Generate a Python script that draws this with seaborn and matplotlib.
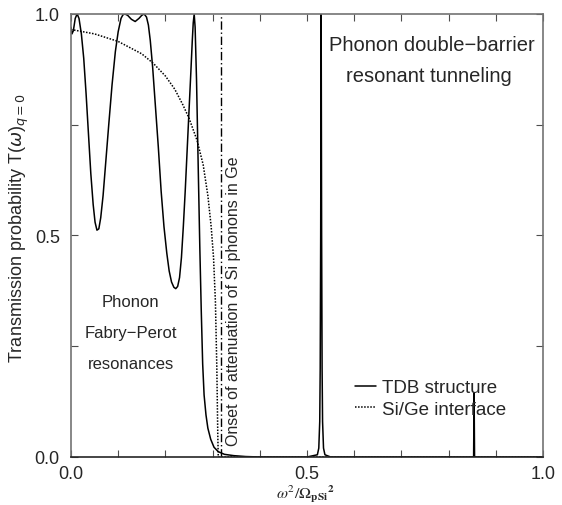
import numpy as np
import pandas as pd
import matplotlib
matplotlib.use('Agg')
import matplotlib.pyplot as plt
from matplotlib.ticker import MultipleLocator
import seaborn as sns

# TDB structure (solid)
tdb_x = [0.0, 0.002, 0.005, 0.009, 0.013, 0.017, 0.022, 0.027, 0.032, 0.037, 0.042, 0.047,
         0.051, 0.055, 0.059, 0.063, 0.068, 0.074, 0.08, 0.087, 0.094, 0.1, 0.106, 0.11,
         0.114, 0.12, 0.128, 0.136, 0.144, 0.15, 0.155, 0.16, 0.164, 0.168, 0.173, 0.179,
         0.185, 0.191, 0.197, 0.203, 0.208, 0.213, 0.218, 0.222, 0.226, 0.23, 0.234,
         0.238, 0.242, 0.246, 0.25, 0.254, 0.257, 0.259, 0.261, 0.263, 0.266, 0.27,
         0.273, 0.276, 0.279, 0.282, 0.286, 0.29, 0.296, 0.303, 0.312, 0.325, 0.345,
         0.37, 0.4, 0.5, 0.522, 0.525, 0.527, 0.528, 0.529, 0.53, 0.531, 0.532, 0.533,
         0.535, 0.538, 0.55, 0.7, 0.853, 0.854, 0.855, 1.0]
tdb_y = [0.97, 0.955, 0.962, 0.99, 1.0, 0.99, 0.955, 0.9, 0.82, 0.73, 0.64, 0.57,
         0.53, 0.512, 0.515, 0.54, 0.59, 0.67, 0.75, 0.84, 0.915, 0.96, 0.99, 0.998,
         1.0, 0.997, 0.988, 0.983, 0.99, 0.997, 1.0, 0.993, 0.975, 0.94, 0.88, 0.79,
         0.7, 0.6, 0.52, 0.46, 0.42, 0.395, 0.383, 0.38, 0.385, 0.405, 0.45,
         0.52, 0.6, 0.69, 0.78, 0.87, 0.94, 0.98, 1.0, 0.97, 0.85, 0.63,
         0.47, 0.33, 0.21, 0.14, 0.095, 0.065, 0.04, 0.022, 0.012, 0.006, 0.003,
         0.001, 0.0, 0.0, 0.005, 0.02, 0.08, 0.2, 0.5, 1.0, 0.5, 0.2, 0.08,
         0.02, 0.005, 0.0, 0.0, 0.0, 0.145, 0.0, 0.0]

# Si/Ge interface (dotted)
sige_x = [0.0, 0.05, 0.1, 0.15, 0.175, 0.2, 0.22, 0.237, 0.25, 0.267, 0.28, 0.29,
          0.297, 0.302, 0.306, 0.309, 0.311, 0.312, 1.0]
sige_y = [0.965, 0.955, 0.938, 0.91, 0.888, 0.86, 0.83, 0.795, 0.765, 0.715, 0.66, 0.59,
          0.52, 0.45, 0.35, 0.2, 0.05, 0.0, 0.0]

onset_x = 0.318

df = pd.concat([
    pd.DataFrame({'x': tdb_x, 'T': tdb_y, 'curve': 'TDB structure'}),
    pd.DataFrame({'x': sige_x, 'T': sige_y, 'curve': 'Si/Ge interface'}),
])

sns.set_style('ticks')
plt.rcParams['font.family'] = ['Liberation Sans', 'DejaVu Sans']

fig = plt.figure(figsize=(5.62, 5.06), dpi=100)
ax = fig.add_axes([0.1263, 0.0949, 0.8399, 0.8755])

sns.lineplot(data=df, x='x', y='T', hue='curve', style='curve',
             palette=['black', 'black'],
             dashes={'TDB structure': '', 'Si/Ge interface': (1, 1)},
             sort=False, estimator=None, linewidth=1.1, ax=ax)
ax.axvline(onset_x, color='black', lw=1.0, ls=(0, (6, 2, 1, 2)))

ax.set_xlim(0, 1)
ax.set_ylim(0, 1)
ax.xaxis.set_major_locator(MultipleLocator(0.5))
ax.xaxis.set_minor_locator(MultipleLocator(0.1))
ax.yaxis.set_major_locator(MultipleLocator(0.5))
ax.yaxis.set_minor_locator(MultipleLocator(0.25))
ax.tick_params(which='both', direction='in', top=True, right=True, labelsize=13,
               color='0.3', width=0.8, length=5)
ax.tick_params(axis='x', pad=6)
ax.tick_params(axis='y', pad=8)
for s in ax.spines.values():
    s.set_color('0.45')
    s.set_linewidth(1.2)
ax.spines['bottom'].set_color('0.15')

ax.set_xlabel(r'$\omega^{2}/\Omega_{\mathbf{pSi}}{}^{\mathbf{2}}$', fontsize=11.5,
              math_fontfamily='stix')
ax.xaxis.set_label_coords(0.496, -0.058)
ax.set_ylabel(r'Transmission probability T($\omega$)$_{q=0}$', fontsize=13)
ax.yaxis.set_label_coords(-0.085, 0.52)

ax.text(0.127, 0.35, 'Phonon', fontsize=12, ha='center', va='center')
ax.text(0.127, 0.282, 'Fabry\u2212Perot', fontsize=12, ha='center', va='center')
ax.text(0.127, 0.212, 'resonances', fontsize=12, ha='center', va='center')
ax.text(0.344, 0.028, 'Onset of attenuation of Si phonons in Ge', fontsize=11.5,
        rotation=90, ha='center', va='bottom')
ax.text(0.765, 0.932, 'Phonon double\u2212barrier', fontsize=14.5, ha='center', va='center')
ax.text(0.758, 0.86, 'resonant tunneling', fontsize=14.5, ha='center', va='center')

ax.legend(loc='upper left', bbox_to_anchor=(0.602, 0.176), frameon=False, fontsize=13.5,
          handlelength=1.1, handletextpad=0.35, labelspacing=0.25,
          borderpad=0, borderaxespad=0, title=None)

fig.savefig('out.png', dpi=100)
